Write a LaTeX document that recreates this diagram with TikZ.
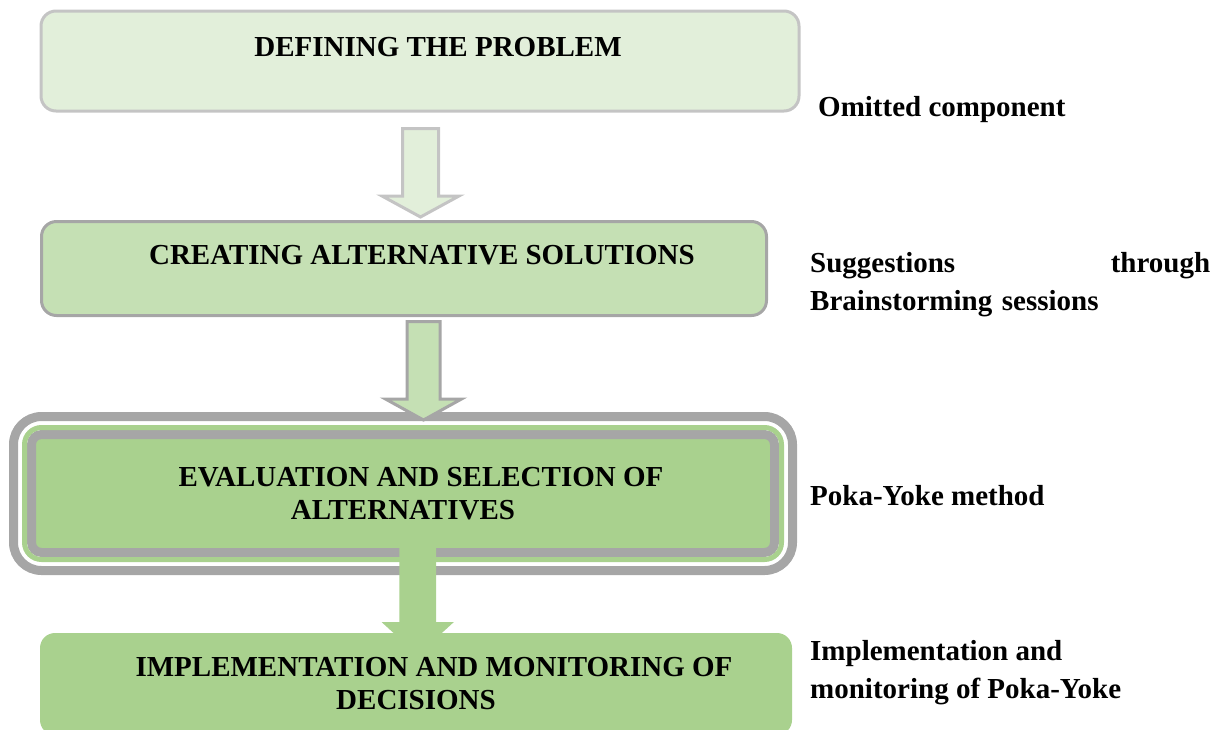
\documentclass[tikz,border=0pt]{standalone}
\usepackage{fontspec}
\setmainfont{Liberation Serif}
\usetikzlibrary{calc,fit}

\definecolor{paleGreen}{HTML}{E2EFDA}
\definecolor{lightGreen}{HTML}{C5E0B4}
\definecolor{midGreen}{HTML}{A9D18E}
\definecolor{lineGray}{HTML}{A6A6A6}
\definecolor{softGray}{HTML}{C4C4C4}

% block arrow pointing down: style, start, tip, half shaft, half head, head length
\newcommand{\downblock}[6]{%
	\path[#1] let \p1=(#2), \p2=(#3) in
		(\x1-#4,\y1) -- (\x1+#4,\y1) -- (\x1+#4,\y2+#6) -- (\x1+#5,\y2+#6)
		-- (\x1,\y2) -- (\x1-#5,\y2+#6) -- (\x1-#4,\y2+#6) -- cycle;}
% first line indent of the box titles
\newcommand{\firstindent}{\hspace*{36pt}}

\tikzset{
	stepbox/.style={rectangle, rounded corners=15pt, outer sep=0pt, inner xsep=0pt,
		font=\fontsize{29}{33}\selectfont\bfseries, align=center},
	topbox/.style={stepbox, inner ysep=0pt, anchor=north},
	note/.style={anchor=base west, inner sep=0pt, font=\fontsize{29}{38}\selectfont\bfseries, align=left},
}

\begin{document}
\begin{tikzpicture}[x=1pt, y=-1pt]
	\clip (0,0) rectangle (1221,729);

	\node[topbox, draw=softGray, line width=3pt, fill=paleGreen, minimum width=758pt,
		text height=45pt, text depth=55pt] (define) at (420,11) {\firstindent DEFINING THE PROBLEM};
	\node[topbox, draw=lineGray, line width=3pt, fill=lightGreen, minimum width=725pt,
		text height=42.5pt, text depth=51.5pt] (create) at (404,221.5) {\firstindent CREATING ALTERNATIVE SOLUTIONS};

	\node[stepbox, draw=lineGray, line width=9pt, fill=midGreen, rounded corners=10pt,
		minimum width=743pt, minimum height=118pt] (eval) at (403,493.5)
		{\firstindent EVALUATION AND SELECTION OF\\ALTERNATIVES};
	\node[draw=midGreen, line width=5pt, rounded corners=17pt, inner sep=7pt, fit=(eval)] (evalring) {};
	\node[draw=lineGray, line width=9pt, rounded corners=28pt, inner sep=18pt, fit=(eval)] (evalframe) {};

	\node[stepbox, fill=midGreen, minimum width=752pt, minimum height=102pt] (impl) at (416,684)
		{\firstindent IMPLEMENTATION AND MONITORING OF\\DECISIONS};

	% arrows between the steps
	\downblock{draw=softGray, fill=paleGreen, line width=3pt}{$(define.south)+(0.5,17.5)$}{$(create.north)+(0,-4.5)$}{18pt}{38.5pt}{21pt}
	\downblock{draw=lineGray, fill=lightGreen, line width=3pt}{$(create.south)+(19.5,6)$}{$(eval.north)+(0,-14.5)$}{16.5pt}{38pt}{21pt}
	\downblock{fill=midGreen}{$(eval.south)+(14.7,-7.5)$}{$(impl.north)+(0,22)$}{18.3pt}{36.2pt}{33pt}

	% remarks on the right
	\node[note] (omitted) at (818,116) {Omitted component};
	\node[note, text width=400pt] (brainstorm) at (810,272) {Suggestions\hfill through\\Brainstorming sessions};
	\node[note] (pokayoke) at (810,505) {Poka-Yoke method};
	\node[note] (monitor) at (810,698) {Implementation and\\monitoring of Poka-Yoke};
\end{tikzpicture}
\end{document}
